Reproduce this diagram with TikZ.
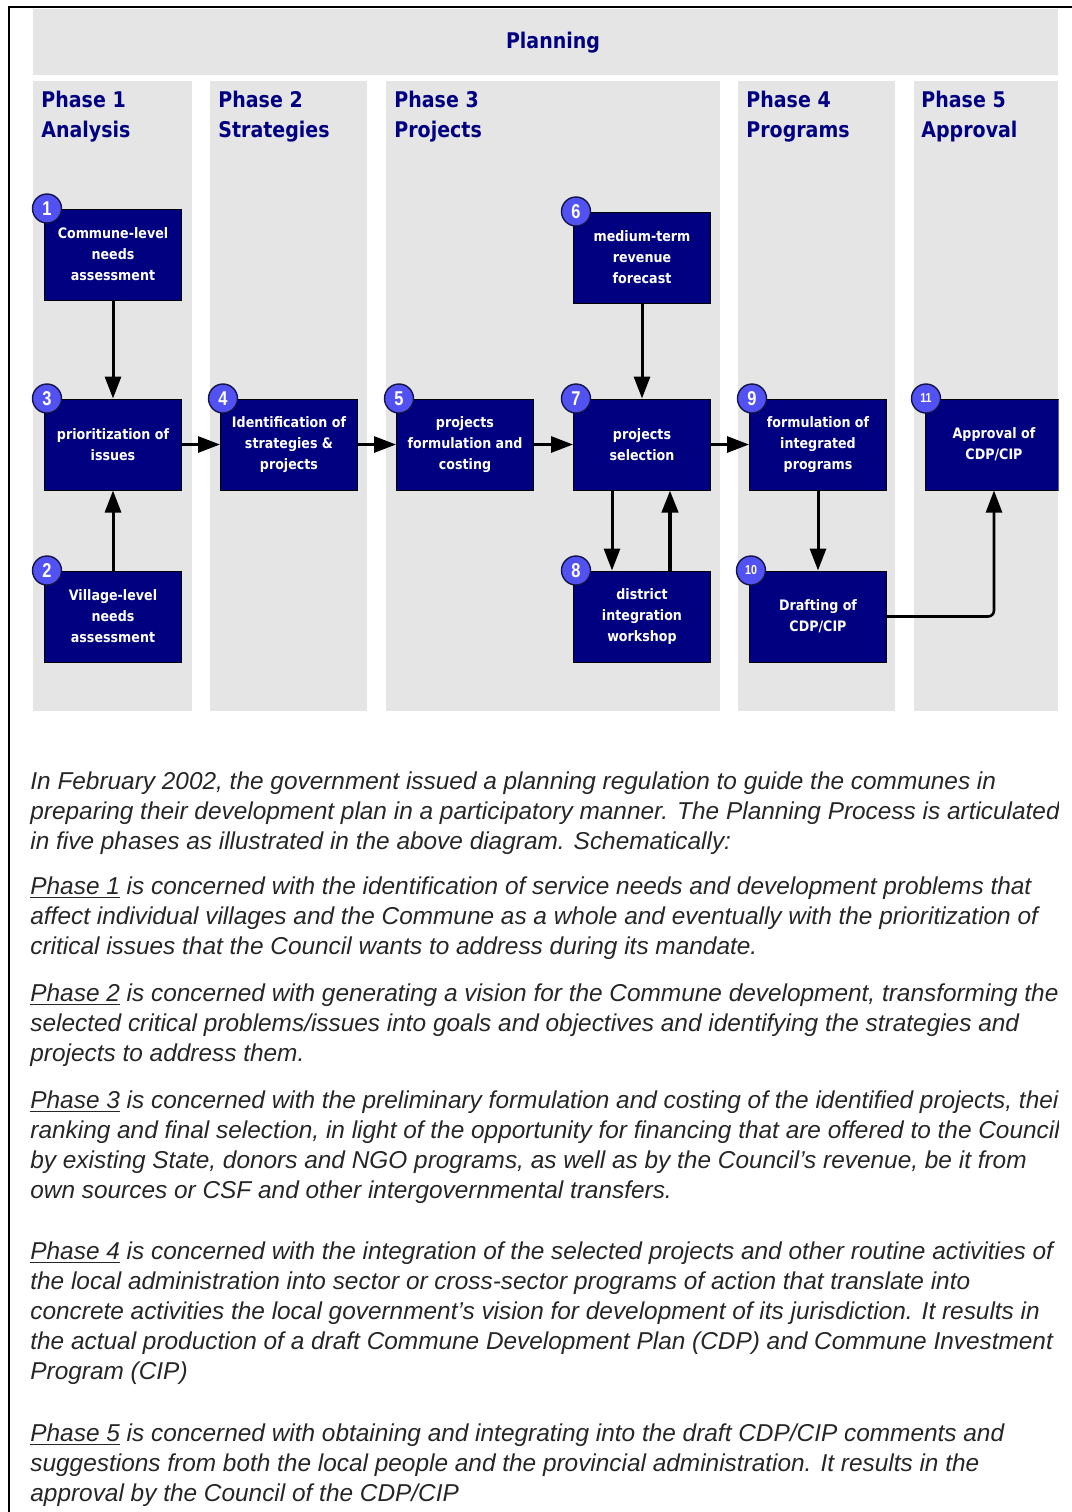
\documentclass[tikz,border=0pt]{standalone}
\usepackage{fontspec}
\setmainfont{Liberation Sans}
\newfontfamily\diafont[FakeStretch=0.88]{DejaVu Sans}
\newfontfamily\numfont[FakeStretch=0.82]{Liberation Sans}
\usepackage{xcolor}
\definecolor{bandgray}{HTML}{E5E5E5}
\definecolor{boxnavy}{HTML}{000080}
\definecolor{badgeblue}{HTML}{5252F2}
\definecolor{badgerim}{HTML}{14144A}
\usetikzlibrary{arrows.meta, positioning}

\begin{document}
\begin{tikzpicture}[
    x=0.5pt, y=-0.5pt,
    node distance=40pt and 19pt,
    band/.style={fill=bandgray, draw=none},
    phasehead/.style={
        anchor=north west,
        inner sep=0pt,
        align=left,
        text=boxnavy,
        font=\diafont\bfseries\fontsize{10.8}{15}\selectfont,
    },
    stepbox/.style={
        rectangle,
        draw=black,
        line width=0.5pt,
        fill=boxnavy,
        text=white,
        minimum width=68.5pt,
        minimum height=45.5pt,
        inner sep=1pt,
        align=center,
        font=\diafont\bfseries\fontsize{7.2}{10.5}\selectfont,
    },
    badge/.style={
        circle,
        draw=badgerim,
        line width=0.7pt,
        fill=badgeblue,
        text=white,
        minimum size=14.5pt,
        inner sep=0pt,
        font=\numfont\bfseries\fontsize{10}{10}\selectfont,
    },
    smallbadge/.style={badge, font=\numfont\bfseries\fontsize{6.5}{6.5}\selectfont},
    arr/.style={-{Triangle[length=11pt, width=8pt]}, line width=1.5pt},
    para/.style={
        anchor=north west,
        inner sep=0pt,
        align=left,
        text=black!85,
        font=\itshape\fontsize{12.2}{15.1}\selectfont,
    },
]

\useasboundingbox (0,0) rectangle (1072,1512);

\begin{scope}
\clip (0,0) rectangle (1058.5,1512);

% background bands
\fill[band] (33,9) rectangle (1058,75);
\foreach \xa/\xb in {33/192, 210/367, 386/720, 738/895, 914/1058}
    \fill[band] (\xa,81) rectangle (\xb,711);

\node[text=boxnavy, anchor=base, font=\diafont\bfseries\fontsize{10.8}{15}\selectfont] (title) at (553,48) {Planning};

\node[phasehead] (h1) at (41,91) {Phase 1\\Analysis};
\node[phasehead] (h2) at (218,91) {Phase 2\\Strategies};
\node[phasehead] (h3) at (394,91) {Phase 3\\Projects};
\node[phasehead] (h4) at (746,91) {Phase 4\\Programs};
\node[phasehead] (h5) at (921,91) {Phase 5\\Approval};

% steps
\node[stepbox] (b3) at (113,444.5) {prioritization of\\issues};
\node[stepbox, above=49pt of b3] (b1) {Commune-level\\needs\\assessment};
\node[stepbox, below=of b3] (b2) {Village-level\\needs\\assessment};
\node[stepbox, right=of b3] (b4) {Identification of\\strategies \&\\projects};
\node[stepbox, right=of b4] (b5) {projects\\formulation and\\costing};
\node[stepbox, right=19.5pt of b5] (b7) {projects\\selection};
\node[stepbox, above=47.5pt of b7] (b6) {medium-term\\revenue\\forecast};
\node[stepbox, below=of b7] (b8) {district\\integration\\workshop};
\node[stepbox, right=of b7] (b9) {formulation of\\integrated\\programs};
\node[stepbox, below=of b9] (b10) {Drafting of\\CDP/CIP};
\node[stepbox, right=of b9] (b11) {Approval of\\CDP/CIP};

% numbers
\foreach \n in {1,...,9}
    \node[badge] (c\n) at ([xshift=1.5pt]b\n.north west) {\n};
\node[smallbadge] (c10) at ([xshift=1pt]b10.north west) {10};
\node[smallbadge] (c11) at ([xshift=0.5pt]b11.north west) {11};

% flow
\draw[arr] (b1) -- (b3);
\draw[arr] (b2) -- (b3);
\draw[arr] (b3) -- (b4);
\draw[arr] (b4) -- (b5);
\draw[arr] (b5) -- (b7);
\draw[arr] (b6) -- (b7);
\draw[arr] ([xshift=-15pt]b7.south) -- ([xshift=-15pt]b8.north);
\draw[arr, line width=2pt] ([xshift=14pt]b8.north) -- ([xshift=14pt]b7.south);
\draw[arr] (b7) -- (b9);
\draw[arr] (b9) -- (b10);
\draw[arr, line width=1.3pt, rounded corners=3pt] (b10.east) -| (b11.south);

% text below the diagram
\node[para] (p1) at (30,771) {In February 2002, the government issued a planning regulation to guide the communes in\\
preparing their development plan in a participatory manner. The Planning Process is articulated\\
in five phases as illustrated in the above diagram. Schematically:};

\node[para] (p2) at (30,876) {\underline{Phase 1} is concerned with the identification of service needs and development problems that\\
affect individual villages and the Commune as a whole and eventually with the prioritization of\\
critical issues that the Council wants to address during its mandate.};

\node[para] (p3) at (30,983) {\underline{Phase 2} is concerned with generating a vision for the Commune development, transforming the\\
selected critical problems/issues into goals and objectives and identifying the strategies and\\
projects to address them.};

\node[para] (p4) at (30,1090) {\underline{Phase 3} is concerned with the preliminary formulation and costing of the identified projects, their\\
ranking and final selection, in light of the opportunity for financing that are offered to the Council\\
by existing State, donors and NGO programs, as well as by the Council’s revenue, be it from\\
own sources or CSF and other intergovernmental transfers.};

\node[para] (p5) at (30,1241) {\underline{Phase 4} is concerned with the integration of the selected projects and other routine activities of\\
the local administration into sector or cross-sector programs of action that translate into\\
concrete activities the local government’s vision for development of its jurisdiction. It results in\\
the actual production of a draft Commune Development Plan (CDP) and Commune Investment\\
Program (CIP)};

\node[para] (p6) at (30,1423) {\underline{Phase 5} is concerned with obtaining and integrating into the draft CDP/CIP comments and\\
suggestions from both the local people and the provincial administration. It results in the\\
approval by the Council of the CDP/CIP};
\end{scope}

% frame
\draw[line width=1pt] (9,1512) -- (9,7) -- (1072,7);

\end{tikzpicture}
\end{document}
